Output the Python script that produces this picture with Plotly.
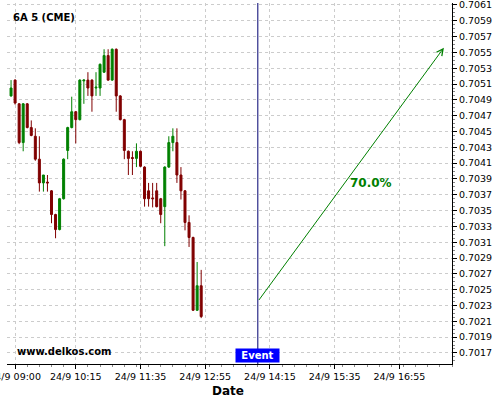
import pandas as pd
import plotly.graph_objects as go

# ---- data ----
start_time = "2024-09-24 08:55"
bar_minutes = 5
opens = [0.70495, 0.70515, 0.70485, 0.70436, 0.70485, 0.70455, 0.70444, 0.70415, 0.70385, 0.70386,
         0.70375, 0.70345, 0.70326, 0.70365, 0.70426, 0.70455, 0.70475, 0.70465, 0.70514, 0.70515,
         0.70515, 0.70505, 0.70505, 0.70525, 0.70546, 0.70515, 0.70554, 0.70495, 0.70465, 0.70425,
         0.70417, 0.70416, 0.70425, 0.70405, 0.70375, 0.70366, 0.70375, 0.70365, 0.70355, 0.70405,
         0.70436, 0.70436, 0.70395, 0.70375, 0.70335, 0.70316, 0.70224, 0.70255]
highs = [0.70515, 0.70516, 0.70486, 0.70486, 0.70486, 0.70464, 0.70454, 0.70444, 0.70395, 0.70395,
         0.70376, 0.70346, 0.70366, 0.70416, 0.70456, 0.70494, 0.70476, 0.70516, 0.70516, 0.70525,
         0.70516, 0.70525, 0.70536, 0.70554, 0.70554, 0.70555, 0.70555, 0.70496, 0.70466, 0.70426,
         0.70425, 0.70435, 0.70426, 0.70406, 0.70385, 0.70385, 0.70385, 0.70366, 0.70406, 0.70444,
         0.70454, 0.70454, 0.70405, 0.70376, 0.70344, 0.70317, 0.70285, 0.70275]
lows = [0.70494, 0.70484, 0.70434, 0.70425, 0.70454, 0.70444, 0.70413, 0.70374, 0.70374, 0.70374,
        0.70334, 0.70315, 0.70325, 0.70364, 0.70415, 0.70454, 0.70435, 0.70464, 0.70485, 0.70495,
        0.70475, 0.70495, 0.70495, 0.70524, 0.70514, 0.70514, 0.70475, 0.70464, 0.70415, 0.70395,
        0.70395, 0.70405, 0.70405, 0.70355, 0.70355, 0.70354, 0.70354, 0.70334, 0.70305, 0.70404,
        0.70425, 0.70385, 0.70364, 0.70325, 0.70304, 0.70223, 0.70223, 0.70214]
closes = [0.70505, 0.70486, 0.70436, 0.70485, 0.70455, 0.70445, 0.70415, 0.70385, 0.70395, 0.70385,
          0.70345, 0.70326, 0.70365, 0.70415, 0.70455, 0.70475, 0.70465, 0.70515, 0.70515, 0.70505,
          0.70495, 0.70506, 0.70535, 0.70546, 0.70515, 0.70554, 0.70495, 0.70465, 0.70426, 0.70416,
          0.70416, 0.70425, 0.70406, 0.70365, 0.70365, 0.70365, 0.70355, 0.70345, 0.70405, 0.70436,
          0.70444, 0.70395, 0.70375, 0.70335, 0.70316, 0.70224, 0.70255, 0.70216]

x_range = ["2024-09-24 08:50", "2024-09-24 18:00"]
y_range = [0.70156, 0.706125]
x_tick_vals = ["2024-09-24 09:00", "2024-09-24 10:15", "2024-09-24 11:35", "2024-09-24 12:55",
               "2024-09-24 14:15", "2024-09-24 15:35", "2024-09-24 16:55"]
x_tick_text = ["24/9 09:00", "24/9 10:15", "24/9 11:35", "24/9 12:55",
               "24/9 14:15", "24/9 15:35", "24/9 16:55"]

event_time = "2024-09-24 14:00"
event_price = 0.70235
target_time = "2024-09-24 17:50"
target_price = 0.70556
prob_label = "70.0%"
prob_time = "2024-09-24 16:20"
prob_price = 0.70385

title_text = "6A 5 (CME)"
watermark = "www.delkos.com"
x_title = "Date"

times = pd.date_range(start_time, periods=len(opens), freq=f"{bar_minutes}min")

UP = "#008000"
DOWN = "#800000"
FONT = "DejaVu Sans"

fig = go.Figure()
fig.add_trace(go.Candlestick(
    x=times, open=opens, high=highs, low=lows, close=closes,
    increasing=dict(line=dict(color=UP, width=1), fillcolor=UP),
    decreasing=dict(line=dict(color=DOWN, width=1), fillcolor=DOWN),
    whiskerwidth=0, showlegend=False, hoverinfo="skip",
))

# event vertical line
fig.add_shape(type="line", xref="x", yref="paper", x0=event_time, x1=event_time, y0=0, y1=1,
              line=dict(color="#000070", width=1))

# arrow
fig.add_annotation(x=target_time, y=target_price, ax=event_time, ay=event_price,
                   xref="x", yref="y", axref="x", ayref="y", text="", showarrow=True,
                   arrowhead=5, arrowsize=1.3, arrowwidth=1, arrowcolor=UP)
fig.add_annotation(x=prob_time, y=prob_price, xref="x", yref="y", text=f"<b>{prob_label}</b>",
                   showarrow=False, font=dict(family=FONT, size=12, color=UP))

# Event label box
fig.add_annotation(x=event_time, y=0, xref="x", yref="paper", text="<b>Event</b>",
                   showarrow=False, yanchor="bottom", yshift=1, bgcolor="#0000ff",
                   width=43, height=13, borderpad=0,
                   font=dict(family=FONT, size=10, color="white"))

fig.add_annotation(x=4 / 445, y=1, xref="paper", yref="paper", xanchor="left", yanchor="top",
                   yshift=-7, text=f"<b>{title_text}</b>", showarrow=False,
                   font=dict(family=FONT, size=10, color="black"))
fig.add_annotation(x=8 / 445, y=0, xref="paper", yref="paper", xanchor="left", yanchor="bottom",
                   yshift=5, text=f"<b>{watermark}</b>", showarrow=False,
                   font=dict(family=FONT, size=10, color="black"))
fig.add_annotation(x=221 / 445, y=0, xref="paper", yref="paper", xanchor="center", yanchor="top",
                   yshift=-18, text=f"<b>{x_title}</b>", showarrow=False,
                   font=dict(family=FONT, size=12, color="black"))

fig.update_layout(
    width=500, height=400,
    margin=dict(l=7, r=48, t=3, b=36),
    paper_bgcolor="white", plot_bgcolor="white",
    font=dict(family=FONT, size=10, color="black"),
    xaxis=dict(
        type="date", range=x_range, rangeslider=dict(visible=False), automargin=False,
        tickvals=x_tick_vals, ticktext=x_tick_text, ticklabeloverflow="allow",
        tickfont=dict(family=FONT, size=9.5, color="black"),
        ticks="outside", ticklen=4, tickcolor="black",
        showgrid=True, gridcolor="#cccccc", griddash="3px,3px", gridwidth=1,
        showline=True, linecolor="black", linewidth=1,
        zeroline=False,
        minor=dict(ticks="outside", ticklen=2, tickcolor="#888888", dtick=15 * 60 * 1000, showgrid=False),
    ),
    yaxis=dict(
        side="right", range=y_range, automargin=False,
        tick0=0.7017, dtick=0.0002, tickformat=".4f", ticklabeloverflow="allow",
        tickfont=dict(family=FONT, size=9.5, color="black"),
        ticks="outside", ticklen=4, tickcolor="black",
        showgrid=True, gridcolor="#cccccc", griddash="3px,3px", gridwidth=1,
        showline=True, linecolor="black", linewidth=1,
        zeroline=False,
        minor=dict(ticks="outside", ticklen=2, tickcolor="#888888", dtick=0.00005, showgrid=False),
    ),
)

fig.write_html("out.html", config={"displayModeBar": False},
               post_script="document.body.style.margin='0';")
